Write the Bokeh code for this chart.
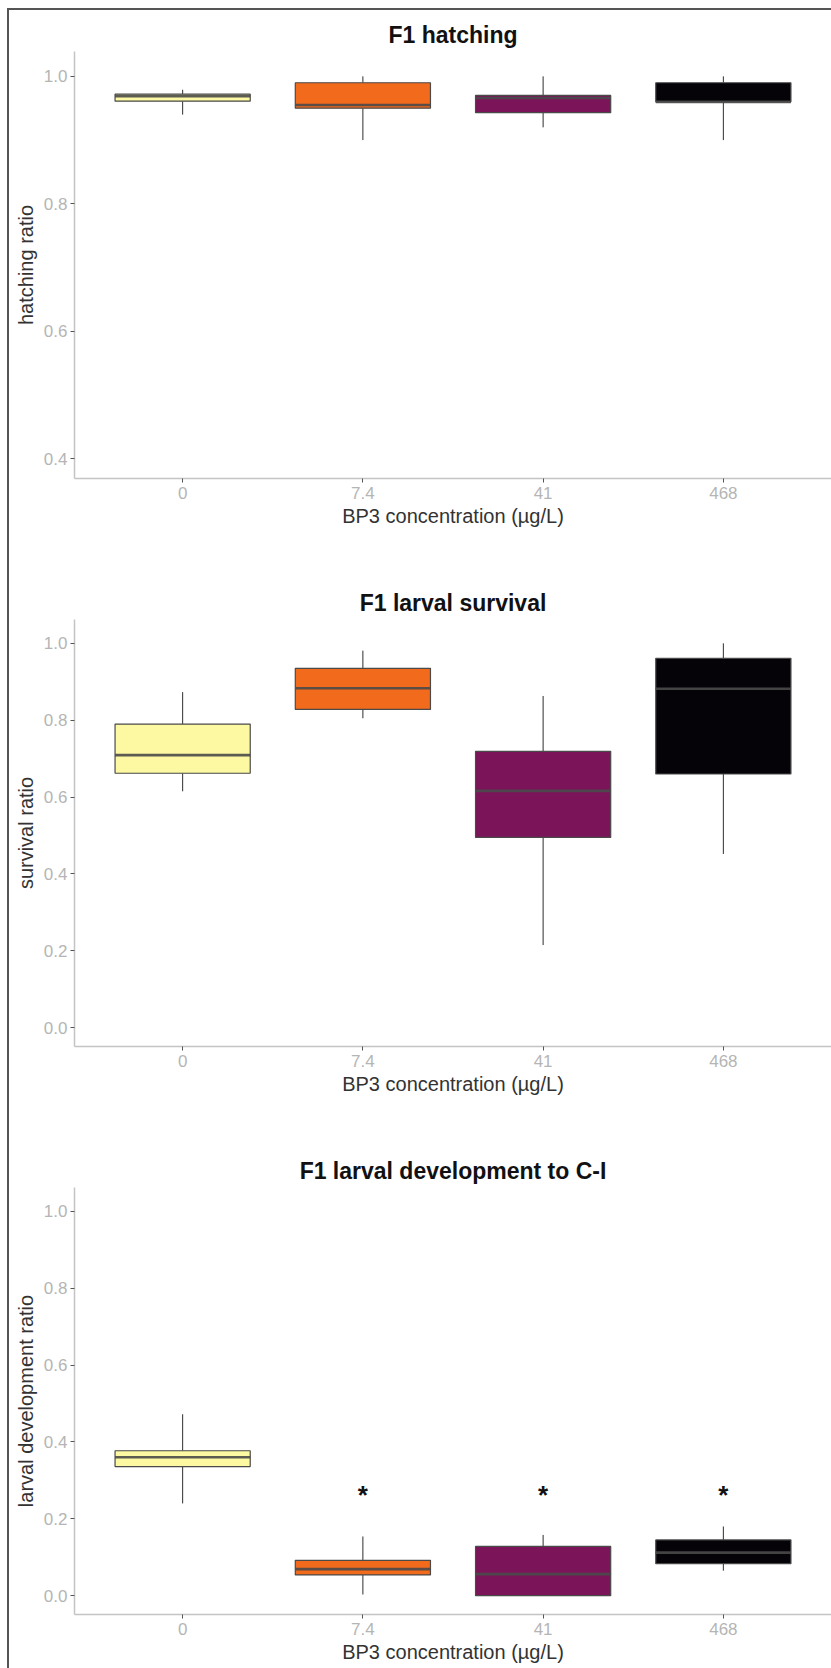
from bokeh.plotting import figure
from bokeh.layouts import column
from bokeh.models import ColumnDataSource, FactorRange, Range1d, FixedTicker, NumeralTickFormatter
from bokeh.transform import dodge
from bokeh.embed import file_html
from bokeh.resources import INLINE
from bokeh.core.properties import value

# ---------------- data ----------------
concentrations = ["0", "7.4", "41", "468"]
box_colors = ["#FDF8A2", "#F26A1B", "#7C1459", "#050308"]
x_title = "BP3 concentration (µg/L)"

# F1 hatching
hatch_min = [0.940, 0.900, 0.920, 0.900]
hatch_q1 = [0.961, 0.950, 0.943, 0.960]
hatch_med = [0.969, 0.955, 0.966, 0.960]
hatch_q3 = [0.972, 0.990, 0.970, 0.990]
hatch_max = [0.979, 1.000, 1.000, 1.000]
hatch_ticks = [0.4, 0.6, 0.8, 1.0]

# F1 larval survival
surv_min = [0.615, 0.805, 0.215, 0.452]
surv_q1 = [0.662, 0.828, 0.495, 0.660]
surv_med = [0.709, 0.883, 0.616, 0.882]
surv_q3 = [0.790, 0.935, 0.719, 0.961]
surv_max = [0.873, 0.981, 0.863, 1.000]

# F1 larval development to C-I
dev_min = [0.240, 0.003, 0.000, 0.065]
dev_q1 = [0.336, 0.054, 0.000, 0.083]
dev_med = [0.360, 0.069, 0.056, 0.112]
dev_q3 = [0.377, 0.092, 0.128, 0.145]
dev_max = [0.472, 0.154, 0.158, 0.180]
dev_sig_groups = ["7.4", "41", "468"]
dev_sig_y = [0.262, 0.262, 0.262]
dev_sig_text = ["*", "*", "*"]

ratio_ticks = [0.0, 0.2, 0.4, 0.6, 0.8, 1.0]

FONT = "Liberation Sans"
LINE = "#4a4a4a"


def make_panel(title, ylab, mins, q1s, meds, q3s, maxs, y_start, y_end, ticks,
               height, bottom):
    p = figure(
        x_range=FactorRange(factors=concentrations, range_padding=0.1,
                            range_padding_units="absolute"),
        y_range=Range1d(y_start, y_end),
        width=822, height=height,
        output_backend="svg", toolbar_location=None,
        min_border_left=65, min_border_right=0,
        min_border_top=41, min_border_bottom=bottom,
        background_fill_color="white", border_fill_color="white",
    )
    p.outline_line_color = None
    p.grid.visible = False

    p.title.text = title
    p.title.align = "center"
    p.title.vertical_align = "middle"
    p.title.text_font = FONT
    p.title.text_font_size = "23px"
    p.title.text_font_style = "bold"
    p.title.text_color = "#111111"
    p.title.standoff = 6

    for ax in (p.xaxis[0], p.yaxis[0]):
        ax.axis_line_color = "#c4c4c4"
        ax.axis_line_width = 1.5
        ax.major_tick_line_color = "#555555"
        ax.major_tick_line_width = 1
        ax.major_tick_out = 4
        ax.major_tick_in = 0
        ax.minor_tick_line_color = None
        ax.major_label_text_font = FONT
        ax.major_label_text_font_size = "17px"
        ax.major_label_text_color = "#b5b5b5"
        ax.axis_label_text_font = FONT
        ax.axis_label_text_font_size = "20px"
        ax.axis_label_text_font_style = "normal"
        ax.axis_label_text_color = "#333333"

    p.xaxis.axis_label = x_title
    p.xaxis.major_label_standoff = 4
    p.xaxis.axis_label_standoff = 3
    p.yaxis.axis_label = ylab
    p.yaxis.major_label_standoff = 3
    p.yaxis.axis_label_standoff = 4
    p.yaxis.ticker = FixedTicker(ticks=ticks)
    p.yaxis.formatter = NumeralTickFormatter(format="0.0")

    src = ColumnDataSource(dict(x=concentrations, lo=mins, q1=q1s, med=meds,
                                q3=q3s, hi=maxs, color=box_colors))
    p.segment(x0="x", y0="q3", x1="x", y1="hi", source=src,
              line_color="#2e2e2e", line_width=1)
    p.segment(x0="x", y0="lo", x1="x", y1="q1", source=src,
              line_color="#2e2e2e", line_width=1)
    p.vbar(x="x", bottom="q1", top="q3", width=0.75, source=src,
           fill_color="color", line_color=LINE, line_width=1.2)
    p.segment(x0=dodge("x", -0.375, range=p.x_range), y0="med",
              x1=dodge("x", 0.375, range=p.x_range), y1="med", source=src,
              line_color=LINE, line_alpha=0.9, line_width=2.6)
    return p


p1 = make_panel("F1 hatching", "hatching ratio", hatch_min, hatch_q1, hatch_med,
                hatch_q3, hatch_max, 0.369, 1.039, hatch_ticks, 568, 100)
p2 = make_panel("F1 larval survival", "survival ratio", surv_min, surv_q1, surv_med,
                surv_q3, surv_max, -0.049, 1.062, ratio_ticks, 568, 100)
p3 = make_panel("F1 larval development to C-I", "larval development ratio",
                dev_min, dev_q1, dev_med, dev_q3, dev_max, -0.049, 1.062,
                ratio_ticks, 523, 55)
p3.text(x=dev_sig_groups, y=dev_sig_y, text=dev_sig_text,
        text_font=value(FONT), text_font_style="bold", text_font_size="26px",
        text_align="center", text_baseline="middle", text_color="#111111")

layout = column(p1, p2, p3, spacing=0,
                styles={"border-left": "2px solid #555555",
                        "border-top": "2px solid #555555",
                        "margin-left": "7px", "margin-top": "8px",
                        "background-color": "white"})

open("out.html", "w").write(file_html(layout, INLINE))
